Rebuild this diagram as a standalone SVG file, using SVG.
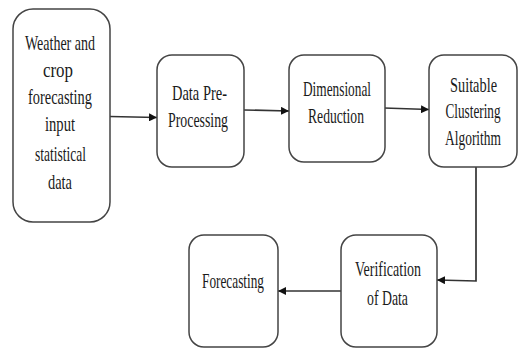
<svg xmlns="http://www.w3.org/2000/svg" width="519" height="348" viewBox="0 0 519 348">
  <defs>
    <marker id="arrow" viewBox="0 0 10 10" refX="10" refY="5" markerWidth="8" markerHeight="8" markerUnits="userSpaceOnUse" orient="auto">
      <path d="M0,0 L10,5 L0,10 z" fill="#111"/>
    </marker>
    <style>
      .box { fill: #fff; stroke: #444; stroke-width: 1.5; }
      .lbl { font-family: "Liberation Serif", "Times New Roman", serif; font-size: 21px; fill: #1a1a1a; text-anchor: middle; }
      .conn { fill: none; stroke: #333; stroke-width: 1.7; }
    </style>
  </defs>
  <rect width="519" height="348" fill="#fff"/>

  <g id="connectors">
    <path class="conn" d="M110,116.5 L157,117.5" marker-end="url(#arrow)"/>
    <path class="conn" d="M244,110 L289,111" marker-end="url(#arrow)"/>
    <path class="conn" d="M384,108 L429,109.5" marker-end="url(#arrow)"/>
    <path class="conn" d="M476,167 L476,281 L437,280" marker-end="url(#arrow)"/>
    <path class="conn" d="M341,291 L278,291" marker-end="url(#arrow)"/>
  </g>

  <g id="input-data">
    <rect class="box" x="13" y="9" width="97" height="213" rx="20"/>
    <text class="lbl" x="60" y="50" textLength="70" lengthAdjust="spacingAndGlyphs">Weather and</text>
    <text class="lbl" x="58" y="77" textLength="30" lengthAdjust="spacingAndGlyphs">crop</text>
    <text class="lbl" x="60" y="104" textLength="64" lengthAdjust="spacingAndGlyphs">forecasting</text>
    <text class="lbl" x="60" y="131" textLength="30" lengthAdjust="spacingAndGlyphs">input</text>
    <text class="lbl" x="60.5" y="161" textLength="51" lengthAdjust="spacingAndGlyphs">statistical</text>
    <text class="lbl" x="60" y="189" textLength="24" lengthAdjust="spacingAndGlyphs">data</text>
  </g>

  <g id="pre-processing">
    <rect class="box" x="157" y="55" width="87" height="112" rx="15"/>
    <text class="lbl" x="199.5" y="100" textLength="55" lengthAdjust="spacingAndGlyphs">Data Pre-</text>
    <text class="lbl" x="198" y="127" textLength="60" lengthAdjust="spacingAndGlyphs">Processing</text>
  </g>

  <g id="dimensional-reduction">
    <rect class="box" x="289" y="55" width="96" height="107" rx="15"/>
    <text class="lbl" x="337" y="96" textLength="68" lengthAdjust="spacingAndGlyphs">Dimensional</text>
    <text class="lbl" x="336" y="123" textLength="56" lengthAdjust="spacingAndGlyphs">Reduction</text>
  </g>

  <g id="clustering">
    <rect class="box" x="429" y="55" width="88" height="112" rx="15"/>
    <text class="lbl" x="473.5" y="92" textLength="47" lengthAdjust="spacingAndGlyphs">Suitable</text>
    <text class="lbl" x="473" y="118" textLength="55" lengthAdjust="spacingAndGlyphs">Clustering</text>
    <text class="lbl" x="473" y="145" textLength="56" lengthAdjust="spacingAndGlyphs">Algorithm</text>
  </g>

  <g id="verification">
    <rect class="box" x="341" y="235" width="96" height="112" rx="15"/>
    <text class="lbl" x="388" y="276" textLength="66" lengthAdjust="spacingAndGlyphs">Verification</text>
    <text class="lbl" x="387.5" y="305" textLength="41" lengthAdjust="spacingAndGlyphs">of Data</text>
  </g>

  <g id="forecasting">
    <rect class="box" x="189" y="235" width="89" height="112" rx="15"/>
    <text class="lbl" x="233" y="288" textLength="62" lengthAdjust="spacingAndGlyphs">Forecasting</text>
  </g>
</svg>
